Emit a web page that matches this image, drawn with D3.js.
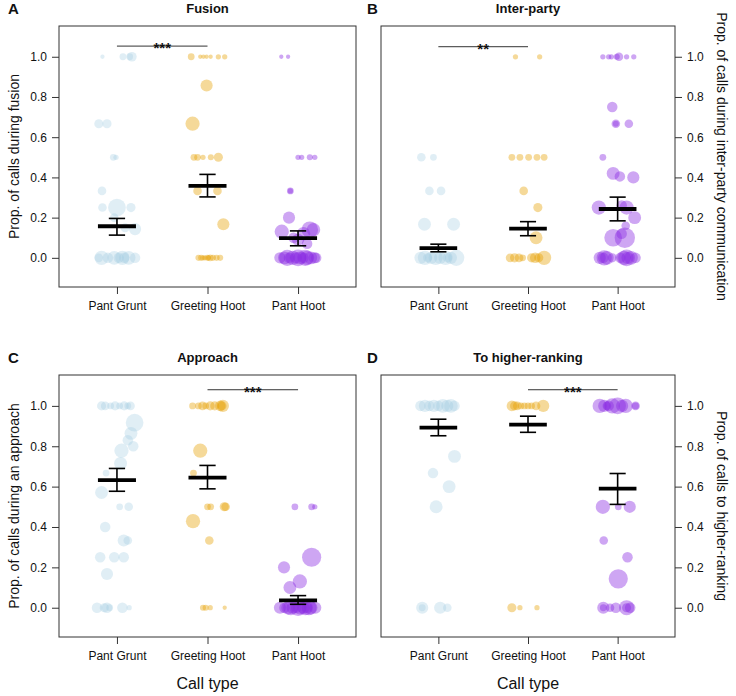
<!DOCTYPE html>
<html>
<head>
<meta charset="utf-8">
<script src="https://cdn.jsdelivr.net/npm/d3@7"></script>
<style>
  html, body { margin: 0; padding: 0; background: #fff; }
  svg { display: block; font-family: "Liberation Sans", Arial, sans-serif; }
</style>
</head>
<body>
<svg id="chart" width="736" height="696"></svg>
<script>
// ---------------- DATA ----------------
const callTypes = ["Pant Grunt", "Greeting Hoot", "Pant Hoot"];
const panelLetters = ["A", "B", "C", "D"];
const panelTitles = ["Fusion", "Inter-party", "Approach", "To higher-ranking"];
const yTitles = [
  "Prop. of calls during fusion",
  "Prop. of calls during inter-party communication",
  "Prop. of calls during an approach",
  "Prop. of calls to higher-ranking"
];
const yTickValues = [0, 0.2, 0.4, 0.6, 0.8, 1.0];
const xTitle = "Call type";

// points: [jitter (category units), proportion, number of calls]
const fusionPG = [[-0.16,1,2],[0.066,1,5],[0.165,1,10],[0.14,1,5],
  [-0.2,0.667,9],[-0.11,0.667,9],[-0.04,0.5,5],[-0.01,0.5,3],[-0.165,0.333,8],
  [-0.16,0.25,8],[0,0.25,34],[0.155,0.25,9],[-0.03,0.2,8],[0.2,0.143,16],[0.09,0.15,9],
  [-0.17,0,22],[-0.1,0,12],[-0.03,0,20],[0.02,0,12],[0.08,0,12],[0.13,0,20],[0.2,0,12],[-0.2,0,8],[0.06,0,22]];
const fusionGH = [[-0.18,1,5],[-0.08,1,2],[-0.045,1,2],[-0.01,1,2],[0.035,1,2],[0.12,1,3],[0.19,1,3],
  [-0.01,0.857,16],[-0.165,0.667,22],
  [-0.15,0.5,5],[-0.11,0.5,5],[-0.05,0.5,3],[0.037,0.5,4],[0.12,0.5,9],
  [-0.11,0.333,8],[0.11,0.333,8],[0.175,0.167,16],
  [-0.1,0,4],[-0.07,0,4],[-0.03,0,3],[0,0,4],[0.03,0,5],[0.06,0,4],[0.1,0,4],[0.14,0,4],[-0.05,0,3],[0.01,0,3]];
const fusionPH = [[-0.185,1,2],[-0.11,1,2],
  [0,0.5,3],[0.04,0.5,3],[0.13,0.5,4],[0.185,0.5,3],
  [-0.085,0.333,5],[-0.085,0.333,3],[-0.1,0.2,16],
  [-0.18,0.13,22],[0.13,0.14,30],[0.17,0.14,20],[0.06,0.12,20],[0,0.09,16],[0.1,0.07,12],[-0.05,0.1,12],
  [-0.2,0,14],[-0.15,0,18],[-0.1,0,12],[-0.06,0,22],[-0.02,0,14],[0.02,0,18],[0.06,0,12],
  [0.1,0,22],[0.14,0,18],[0.18,0,14],[0.2,0,12],[0,0,30],[0.08,0,28],[-0.12,0,28]];

const interPG = [[-0.19,0.5,8],[-0.055,0.5,5],[-0.1,0.333,8],[0.03,0.333,8],
  [-0.155,0.167,18],[0.17,0.167,18],
  [-0.2,0,16],[-0.15,0,22],[-0.08,0,16],[-0.03,0,22],[0.02,0,16],[0.08,0,22],[0.14,0,16],[0.2,0,28],[0.1,0,9],[-0.12,0,9]];
const interGH = [[-0.14,1,3],[0.13,1,3],
  [-0.18,0.5,5],[-0.09,0.5,5],[0.007,0.5,5],[0.1,0.5,5],[0.18,0.5,5],
  [-0.048,0.333,8],[0.11,0.25,9],[0.09,0.1,18],
  [-0.2,0,8],[-0.15,0,9],[-0.1,0,8],[-0.06,0,5],[0.04,0,9],[0.08,0,12],[0.12,0,9],[0.18,0,22]];
const interPH = [[-0.165,1,3],[-0.1,1,3],[-0.07,1,3],[-0.01,1,4],[0.015,1,8],[0.1,1,3],[0.18,1,3],
  [-0.06,0.75,12],[-0.02,0.667,8],[-0.02,0.667,4],[0.125,0.667,8],[-0.165,0.5,5],
  [-0.05,0.42,18],[0.025,0.405,12],[0.175,0.4,16],
  [-0.21,0.25,22],[0.1,0.25,22],[0.045,0.26,12],[0.19,0.2,18],[0.09,0.16,8],[0.045,0.12,12],
  [-0.05,0.1,34],[0.08,0.1,45],
  [-0.2,0,16],[-0.16,0,12],[-0.12,0,20],[-0.06,0,9],[0.03,0,12],[0.07,0,22],[0.11,0,16],[0.15,0,20],[0.2,0,12],[0.1,0,30],[-0.15,0,25]];

const approachPG = [[-0.17,1,9],[-0.13,1,8],[-0.07,1,5],[-0.02,1,9],[0.03,1,5],[0.08,1,9],[0.12,1,5],[0.15,1,8],
  [0.195,0.917,34],[0.155,0.864,18],[0.12,0.83,12],[0.18,0.8,12],[0.05,0.778,22],[0.04,0.715,18],
  [-0.12,0.667,5],[-0.17,0.571,18],[0.03,0.5,5],[0.13,0.5,8],[-0.13,0.4,12],
  [0.075,0.333,16],[0.12,0.333,8],[-0.185,0.25,12],[-0.03,0.25,12],[0.075,0.25,12],[-0.11,0.167,16],
  [-0.22,0,12],[-0.14,0,9],[-0.11,0,12],[-0.08,0,5],[0.06,0,12],[0.135,0,3]];
const approachGH = [[-0.165,1,5],[-0.1,1,5],[-0.055,1,8],[-0.02,1,5],[0.03,1,9],[0.08,1,9],[0.14,1,12],[0.17,1,16],[0.16,1,9],
  [-0.08,0.778,22],[-0.155,0.667,5],
  [0,0.5,5],[0.035,0.5,5],[0.185,0.5,9],[0.2,0.5,8],
  [-0.16,0.429,22],[0.02,0.333,8],
  [-0.05,0,4],[-0.02,0,4],[0.03,0,3],[0.19,0,2]];
const approachPH = [[-0.035,0.5,5],[0.15,0.5,5],[0.185,0.5,3],
  [0.15,0.25,40],[-0.155,0.2,16],[0.02,0.13,22],[-0.09,0.1,18],
  [-0.2,0,16],[-0.15,0,12],[-0.11,0,20],[-0.06,0,16],[-0.02,0,12],[0.02,0,20],[0.06,0,16],
  [0.1,0,12],[0.14,0,20],[0.19,0,16],[0,0,30],[-0.08,0,25],[0.08,0,25],[0.12,0,25]];

const higherPG = [[-0.2,1,12],[-0.15,1,16],[-0.1,1,12],[-0.05,1,16],[0,1,12],[0.05,1,20],[0.1,1,16],[0.14,1,20],[0.18,1,12],
  [0.18,0.75,18],[-0.06,0.667,12],[0.12,0.6,18],[-0.025,0.5,18],
  [-0.18,0,16],[-0.18,0,5],[0.02,0,16],[0.1,0,8]];
const higherGH = [[-0.18,1,12],[-0.15,1,9],[-0.12,1,8],[-0.08,1,5],[-0.04,1,5],[0,1,5],[0.04,1,5],[0.09,1,8],[0.17,1,16],
  [-0.18,0,9],[-0.09,0,3],[0.1,0,3]];
const higherPH = [[-0.2,1,22],[-0.15,1,16],[-0.1,1,12],[-0.06,1,25],[0,1,30],[0.05,1,16],[0.09,1,22],[0.2,1,8],[0.2,1,5],[-0.12,1,8],
  [-0.165,0.5,22],[0.007,0.5,5],[0.135,0.5,16],[-0.155,0.333,8],[0.11,0.25,12],[0.007,0.143,40],
  [-0.16,0,16],[-0.16,0,5],[-0.085,0,8],[-0.02,0,12],[0.1,0,25],[0.1,0,9],[0.14,0,12]];

// means and standard-error limits per call type
const fusionMean = [0.157, 0.358, 0.098], fusionLow = [0.113, 0.303, 0.060], fusionHigh = [0.196, 0.415, 0.134];
const interMean = [0.048, 0.145, 0.243], interLow = [0.030, 0.110, 0.184], interHigh = [0.068, 0.180, 0.302];
const approachMean = [0.632, 0.645, 0.036], approachLow = [0.577, 0.589, 0.017], approachHigh = [0.690, 0.705, 0.060];
const higherMean = [0.892, 0.907, 0.590], higherLow = [0.852, 0.869, 0.512], higherHigh = [0.934, 0.949, 0.665];

// significance brackets per panel
const sigFrom = [0, 0, 1, 1];
const sigTo = [1, 1, 2, 2];
const sigLevel = [1.053, 1.05, 1.08, 1.08];
const sigLabel = ["***", "**", "***", "***"];

// ---------------- STYLE / LAYOUT ----------------
const colors = ["#9ecae1", "#E69F00", "#8A2BE2"];
const alphas = [0.32, 0.4, 0.42];
const panels = [
  {left: 59, right: 356, top: 26, bottom: 287, axis: "left", pts: [fusionPG, fusionGH, fusionPH], m: fusionMean, lo: fusionLow, hi: fusionHigh, xTitle: false},
  {left: 381, right: 675, top: 26, bottom: 287, axis: "right", pts: [interPG, interGH, interPH], m: interMean, lo: interLow, hi: interHigh, xTitle: false},
  {left: 59, right: 356, top: 375, bottom: 637, axis: "left", pts: [approachPG, approachGH, approachPH], m: approachMean, lo: approachLow, hi: approachHigh, xTitle: true},
  {left: 381, right: 675, top: 375, bottom: 637, axis: "right", pts: [higherPG, higherGH, higherPH], m: higherMean, lo: higherLow, hi: higherHigh, xTitle: true}
];

const svg = d3.select("#chart");
const rScale = d3.scaleSqrt().domain([0, 40]).range([0, 9.6]);

panels.forEach((p, i) => {
  const x = d3.scaleLinear().domain([0.36, 3.64]).range([p.left, p.right]);
  const y = d3.scaleLinear().domain([-0.145, 1.153]).range([p.bottom, p.top]);
  const g = svg.append("g");

  // points
  p.pts.forEach((arr, c) => {
    g.append("g").selectAll("circle").data(arr).join("circle")
      .attr("cx", d => x(c + 1 + d[0]))
      .attr("cy", d => y(d[1]))
      .attr("r", d => rScale(d[2]))
      .attr("fill", colors[c])
      .attr("fill-opacity", alphas[c]);
  });

  // significance bracket
  const sy = y(sigLevel[i]);
  g.append("line")
    .attr("x1", x(sigFrom[i] + 1)).attr("x2", x(sigTo[i] + 1))
    .attr("y1", sy).attr("y2", sy)
    .attr("stroke", "#333").attr("stroke-width", 1);
  g.append("text")
    .attr("x", x((sigFrom[i] + sigTo[i]) / 2 + 1))
    .attr("y", sy + 7)
    .attr("text-anchor", "middle")
    .attr("font-size", 15)
    .attr("font-weight", "bold")
    .attr("fill", "#111")
    .text(sigLabel[i]);

  // means and error bars
  callTypes.forEach((ct, c) => {
    const cx = c + 1;
    g.append("line").attr("x1", x(cx)).attr("x2", x(cx))
      .attr("y1", y(p.lo[c])).attr("y2", y(p.hi[c]))
      .attr("stroke", "#000").attr("stroke-width", 1.6);
    [p.lo[c], p.hi[c]].forEach(v => {
      g.append("line").attr("x1", x(cx - 0.09)).attr("x2", x(cx + 0.09))
        .attr("y1", y(v)).attr("y2", y(v))
        .attr("stroke", "#000").attr("stroke-width", 1.6);
    });
    g.append("line").attr("x1", x(cx - 0.21)).attr("x2", x(cx + 0.21))
      .attr("y1", y(p.m[c])).attr("y2", y(p.m[c]))
      .attr("stroke", "#000").attr("stroke-width", 3.8);
  });

  // box
  g.append("rect").attr("x", p.left).attr("y", p.top)
    .attr("width", p.right - p.left).attr("height", p.bottom - p.top)
    .attr("fill", "none").attr("stroke", "#333").attr("stroke-width", 1);

  // x axis
  const xAxis = d3.axisBottom(x).tickValues([1, 2, 3])
    .tickFormat(d => callTypes[d - 1]).tickSize(7).tickPadding(7);
  const xg = g.append("g").attr("transform", `translate(0,${p.bottom})`).call(xAxis);
  xg.select(".domain").remove();
  xg.selectAll("line").attr("stroke", "#333");
  xg.selectAll("text").attr("font-size", 12).attr("fill", "#111")
    .attr("font-family", "'Liberation Sans Narrow', 'Liberation Sans', Arial, sans-serif");

  // y axis
  const yAxis = (p.axis === "left" ? d3.axisLeft(y) : d3.axisRight(y))
    .tickValues(yTickValues).tickFormat(d3.format(".1f")).tickSize(7).tickPadding(5);
  const yx = p.axis === "left" ? p.left : p.right;
  const yg = g.append("g").attr("transform", `translate(${yx},0)`).call(yAxis);
  yg.select(".domain").remove();
  yg.selectAll("line").attr("stroke", "#333");
  yg.selectAll("text").attr("font-size", 12).attr("fill", "#111").attr("font-family", "'Liberation Sans', Arial, sans-serif");

  // y title
  const midY = (p.top + p.bottom) / 2;
  if (p.axis === "left") {
    g.append("text").attr("transform", `translate(14,${midY}) rotate(-90)`)
      .attr("text-anchor", "middle").attr("dominant-baseline", "central")
      .attr("font-size", 14).attr("fill", "#111").text(yTitles[i]);
  } else {
    g.append("text").attr("transform", `translate(722,${midY}) rotate(90)`)
      .attr("text-anchor", "middle").attr("dominant-baseline", "central")
      .attr("font-size", 14).attr("fill", "#111").text(yTitles[i]);
  }

  // title
  g.append("text").attr("x", (p.left + p.right) / 2).attr("y", p.top - 13)
    .attr("text-anchor", "middle").attr("font-size", 13).attr("font-weight", "bold")
    .attr("fill", "#111").text(panelTitles[i]);
  // panel letter
  g.append("text").attr("x", p.axis === "left" ? 8 : 367).attr("y", p.top - 12)
    .attr("font-size", 15).attr("font-weight", "bold").attr("fill", "#111").text(panelLetters[i]);

  if (p.xTitle) {
    g.append("text").attr("x", (p.left + p.right) / 2).attr("y", 689)
      .attr("text-anchor", "middle").attr("font-size", 16).attr("fill", "#111").text(xTitle);
  }
});
</script>
</body>
</html>
